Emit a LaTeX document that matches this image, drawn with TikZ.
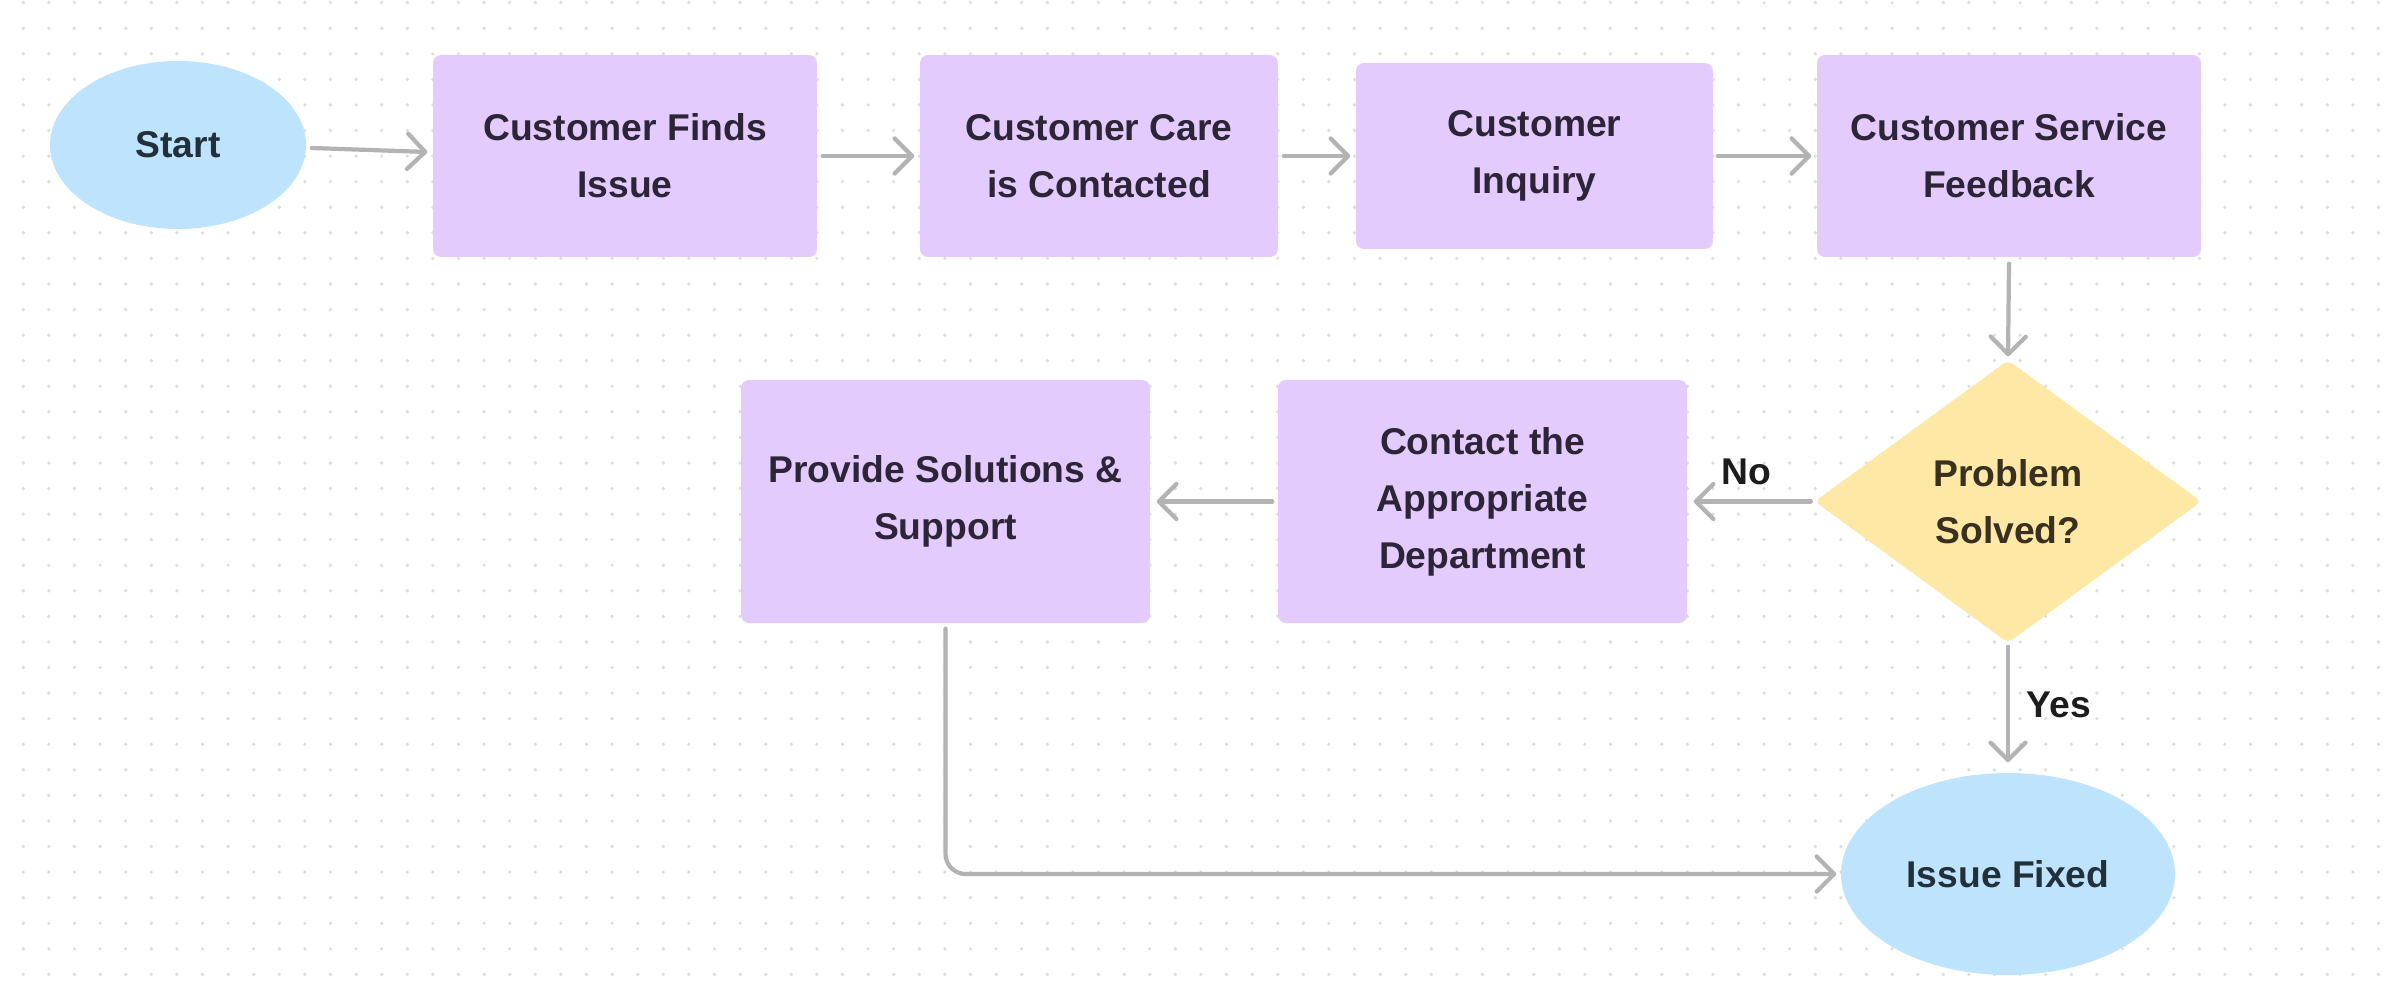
\documentclass[tikz,border=0pt]{standalone}
\usepackage{fontspec}
\setmainfont{Liberation Sans}
\usetikzlibrary{shapes.geometric,arrows.meta}
\definecolor{dotc}{HTML}{DCDCDC}
\definecolor{bluef}{HTML}{BEE3FC}
\definecolor{purpf}{HTML}{E3CCFD}
\definecolor{yelf}{HTML}{FDE8A5}
\definecolor{linec}{HTML}{B3B3B3}
\definecolor{txtp}{HTML}{2D2438}
\definecolor{txtb}{HTML}{22303A}
\definecolor{txty}{HTML}{3A3020}
\definecolor{lblc}{HTML}{1C1C1C}
\tikzset{
  lbl/.style={font=\fontsize{10.6}{16.2}\selectfont\bfseries, align=center},
  oval/.style={ellipse, fill=bluef, inner sep=0pt, lbl, text=txtb},
  box/.style={rectangle, rounded corners=0.08cm, fill=purpf, inner sep=0pt, lbl, text=txtp},
  decision/.style={diamond, fill=yelf, inner sep=0pt, rounded corners=0.06cm, lbl, text=txty},
  arr/.style={draw=linec, line width=1.2pt, line cap=round, -{Straight Barb[length=5pt,width=10pt,line cap=round,line join=round]}},
  edgelbl/.style={font=\fontsize{10.6}{14}\selectfont\bfseries, text=lblc}
}
\begin{document}
\begin{tikzpicture}
\useasboundingbox (0,0) rectangle (24,-9.88);
\fill[white] (0,0) rectangle (24,-9.88);
\foreach \i in {0,...,93}{
  \foreach \j in {0,...,38}{
    \fill[dotc] ({0.233+0.256*\i},{-0.027-0.2557*\j}) circle (0.018);
  }
}
\node[oval, minimum width=2.56cm, minimum height=1.68cm] (start) at (1.78,-1.45) {Start};
\node[box, minimum width=3.84cm, minimum height=2.02cm] (b1) at (6.25,-1.56) {Customer Finds\\Issue};
\node[box, minimum width=3.58cm, minimum height=2.02cm] (b2) at (10.99,-1.56) {Customer Care\\is Contacted};
\node[box, minimum width=3.57cm, minimum height=1.86cm] (b3) at (15.345,-1.56) {Customer\\Inquiry};
\node[box, minimum width=3.84cm, minimum height=2.02cm] (b4) at (20.09,-1.56) {Customer Service\\Feedback};
\node[decision, minimum width=3.87cm, minimum height=2.83cm] (dec) at (20.08,-5.015) {Problem\\Solved?};
\node[box, minimum width=4.09cm, minimum height=2.43cm] (contact) at (14.825,-5.015) {Contact the\\Appropriate\\Department};
\node[box, minimum width=4.09cm, minimum height=2.43cm] (provide) at (9.455,-5.015) {Provide Solutions \&\\Support};
\node[oval, minimum width=3.34cm, minimum height=2.02cm] (fixed) at (20.08,-8.74) {Issue Fixed};

\draw[arr] ([shift={(0.05,-0.03)}]start.east) -- ([shift={(-0.05,0.04)}]b1.west);
\draw[arr] ([xshift=0.05cm]b1.east) -- ([xshift=-0.05cm]b2.west);
\draw[arr] ([xshift=0.05cm]b2.east) -- ([xshift=-0.05cm]b3.west);
\draw[arr] ([xshift=0.04cm]b3.east) -- ([xshift=-0.05cm]b4.west);
\draw[arr] ([yshift=-0.06cm]b4.south) -- ([yshift=0.03cm]dec.north);
\draw[arr] ([xshift=-0.03cm]dec.west) -- node[edgelbl, above=0.03cm, pos=0.55] (no) {No} ([xshift=0.06cm]contact.east);
\draw[arr] ([xshift=-0.05cm]contact.west) -- ([xshift=0.06cm]provide.east);
\draw[arr] ([yshift=-0.03cm]dec.south) -- node[edgelbl, right=0.05cm] (yes) {Yes} ([yshift=0.1cm]fixed.north);
\draw[arr, rounded corners=0.2cm] ([yshift=-0.05cm]provide.south) |- ([xshift=-0.04cm]fixed.west);
\end{tikzpicture}
\end{document}
